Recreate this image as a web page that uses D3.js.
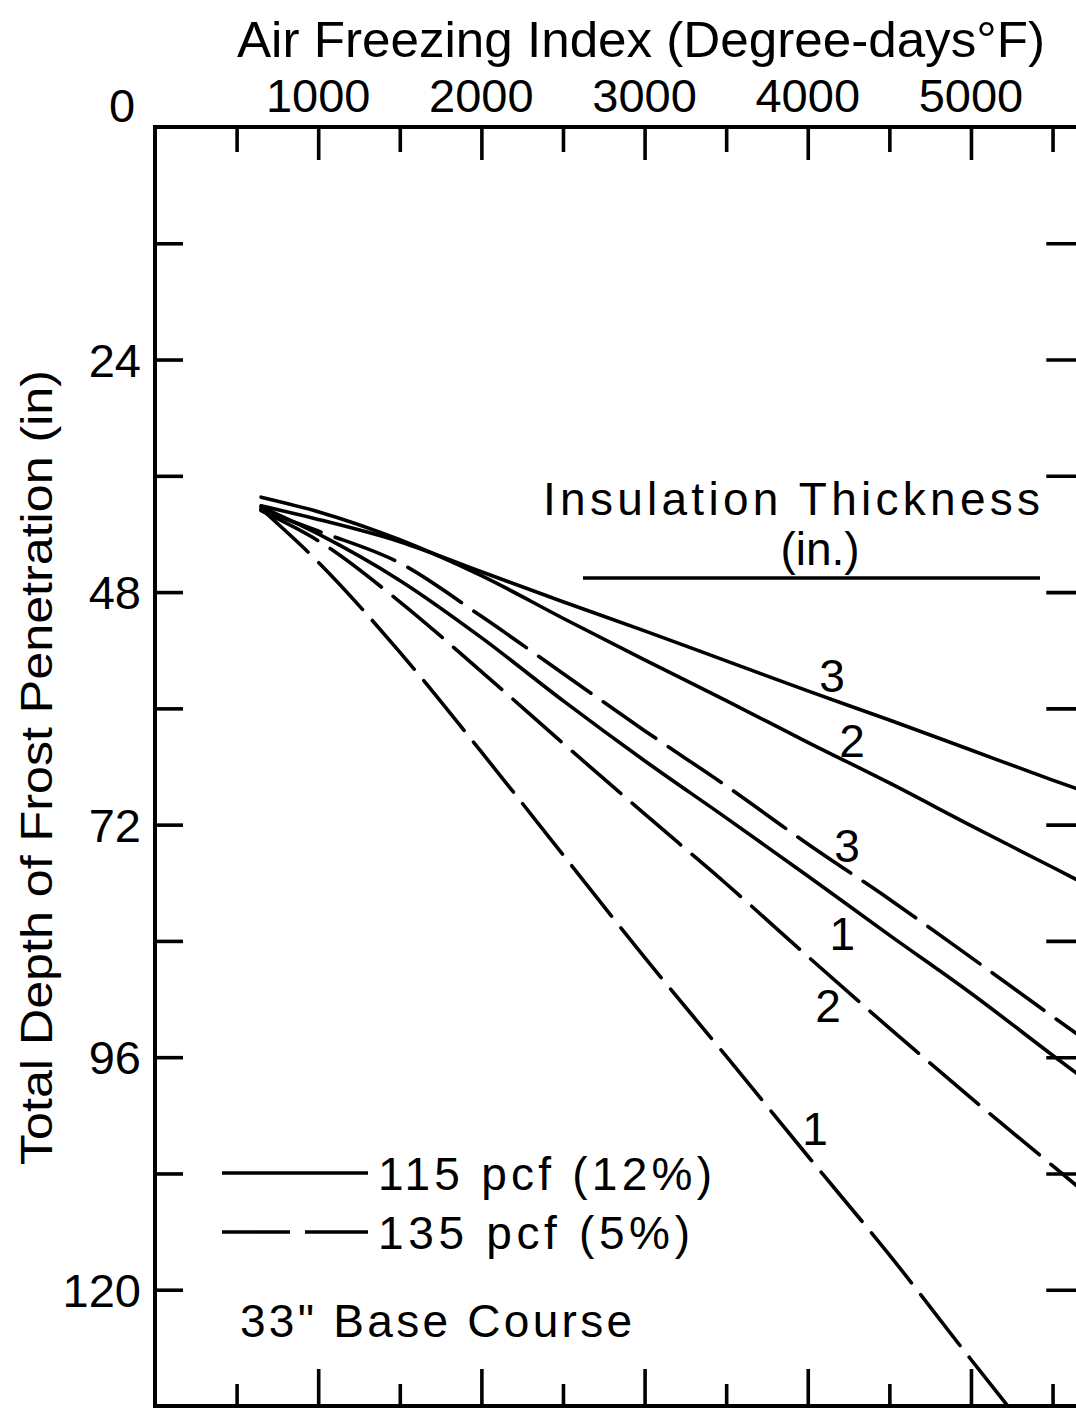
<!DOCTYPE html>
<html>
<head>
<meta charset="utf-8">
<script src="https://cdn.jsdelivr.net/npm/d3@7"></script>
<style>
  html, body { margin: 0; padding: 0; background: #fff; }
  svg { display: block; }
  text { font-family: "Liberation Sans", Arial, sans-serif; fill: #000; }
</style>
</head>
<body>
<svg id="chart" width="1076" height="1408"></svg>
<script>
// Air freezing index (degree-days °F) at which each curve is sampled
const freezingIndex = [650, 1000, 1500, 2000, 2500, 3000, 3500, 4000, 4500, 5000, 5500, 5650];

// Total depth of frost penetration (in) — 115 pcf base (12% moisture)
const solid115_3in = [39.1, 40.5, 42.8, 45.9, 49.0, 52.0, 55.1, 58.2, 61.2, 64.3, 67.4, 68.3];
const solid115_2in = [38.2, 39.7, 42.6, 46.3, 50.7, 55.0, 59.2, 63.5, 67.7, 72.1, 76.4, 77.7];
const solid115_1in = [39.2, 42.0, 46.8, 52.7, 59.2, 65.4, 71.3, 77.3, 83.4, 89.4, 95.8, 97.7];

// Total depth of frost penetration (in) — 135 pcf base (5% moisture)
const dashed135_3in = [39.5, 41.7, 45.0, 50.5, 56.4, 62.3, 68.0, 74.0, 79.7, 85.7, 91.8, 93.6];
const dashed135_2in = [39.6, 42.7, 49.0, 56.2, 63.6, 70.9, 78.1, 85.6, 93.0, 100.2, 107.2, 109.3];
const dashed135_1in = [39.4, 44.9, 54.2, 64.5, 75.1, 85.7, 95.9, 106.2, 116.4, 127.2, 137.7, 140.7];

// Axis ticks and labels
const xMinorTicks = [500, 1500, 2500, 3500, 4500, 5500];
const xMajorTicks = [1000, 2000, 3000, 4000, 5000];
const xTickLabels = ["1000", "2000", "3000", "4000", "5000"];
const yTicks = [12, 24, 36, 48, 60, 72, 84, 96, 108, 120];
const yTickLabels = [24, 48, 72, 96, 120];

// Insulation thickness labels placed along the curves (index, depth)
const curveLabels = [
  { text: "3", f: 4149, d: 58.3 },
  { text: "2", f: 4272, d: 65.0 },
  { text: "3", f: 4241, d: 75.9 },
  { text: "1", f: 4211, d: 84.9 },
  { text: "2", f: 4125, d: 92.4 },
  { text: "1", f: 4045, d: 105.1 }
];

const series = [
  { values: solid115_3in, dashed: false },
  { values: solid115_2in, dashed: false },
  { values: solid115_1in, dashed: false },
  { values: dashed135_3in, dashed: true },
  { values: dashed135_2in, dashed: true },
  { values: dashed135_1in, dashed: true }
];

const svg = d3.select("#chart");
const x = d3.scaleLinear().domain([0, 5670]).range([155, 1080.3]);
const y = d3.scaleLinear().domain([0, 132]).range([127, 1406]);
const [x0, x1] = x.range();
const [y0, y1] = y.range();
const DASH = "64,15";
const SW = 3.6;

// clip region for the curves
svg.append("defs").append("clipPath").attr("id", "plot-clip")
  .append("rect").attr("x", x0).attr("y", y0).attr("width", x1 - x0).attr("height", y1 - y0);

// tick marks on all four sides, pointing inward
function tickAxis(axis, transform) {
  const g = svg.append("g").attr("transform", transform).call(axis);
  g.select(".domain").remove();
  g.selectAll("text").remove();
  g.selectAll("line").attr("stroke", "#000").attr("stroke-width", SW);
}
tickAxis(d3.axisTop(x).tickValues(xMinorTicks).tickSize(-25), `translate(0,${y0})`);
tickAxis(d3.axisTop(x).tickValues(xMajorTicks).tickSize(-33), `translate(0,${y0})`);
tickAxis(d3.axisBottom(x).tickValues(xMinorTicks).tickSize(-22), `translate(0,${y1})`);
tickAxis(d3.axisBottom(x).tickValues(xMajorTicks).tickSize(-37), `translate(0,${y1})`);
tickAxis(d3.axisLeft(y).tickValues(yTicks).tickSize(-28), `translate(${x0},0)`);
tickAxis(d3.axisRight(y).tickValues(yTicks).tickSize(-34), `translate(${x1},0)`);

// frame
svg.append("rect")
  .attr("x", x0).attr("y", y0).attr("width", x1 - x0).attr("height", y1 - y0)
  .attr("fill", "none").attr("stroke", "#000").attr("stroke-width", 4);

// tick labels
svg.append("g").selectAll("text").data(xMajorTicks).join("text")
  .attr("x", d => x(d)).attr("y", 112)
  .attr("text-anchor", "middle").attr("font-size", 47)
  .text((d, i) => xTickLabels[i]);

svg.append("text").attr("x", x(0) - 33).attr("y", y(0) - 5)
  .attr("text-anchor", "middle").attr("font-size", 47).text("0");

svg.append("g").selectAll("text").data(yTickLabels).join("text")
  .attr("x", x0 - 14).attr("y", d => y(d) + 17)
  .attr("text-anchor", "end").attr("font-size", 47)
  .text(d => d);

// axis titles
svg.append("text").attr("x", 237).attr("y", 57)
  .attr("font-size", 50).attr("textLength", 808).attr("lengthAdjust", "spacingAndGlyphs")
  .text("Air Freezing Index (Degree-days°F)");

svg.append("text").attr("transform", "translate(52,1165) rotate(-90)")
  .attr("font-size", 44).attr("textLength", 795).attr("lengthAdjust", "spacingAndGlyphs")
  .text("Total Depth of Frost Penetration (in)");

// curves
const line = d3.line()
  .x((d, i) => x(freezingIndex[i]))
  .y(d => y(d))
  .curve(d3.curveMonotoneX);

svg.append("g").attr("clip-path", "url(#plot-clip)")
  .selectAll("path").data(series).join("path")
  .attr("d", s => line(s.values))
  .attr("fill", "none").attr("stroke", "#000").attr("stroke-width", SW)
  .attr("stroke-linecap", "round")
  .attr("stroke-dasharray", s => s.dashed ? DASH : null);

// curve labels
svg.append("g").selectAll("text").data(curveLabels).join("text")
  .attr("x", d => x(d.f)).attr("y", d => y(d.d))
  .attr("text-anchor", "middle").attr("font-size", 46)
  .text(d => d.text);

// insulation thickness heading
svg.append("text").attr("x", 543).attr("y", 515)
  .attr("font-size", 46).attr("textLength", 497).attr("lengthAdjust", "spacing")
  .text("Insulation Thickness");
svg.append("text").attr("x", 820).attr("y", 565)
  .attr("text-anchor", "middle").attr("font-size", 46)
  .text("(in.)");
svg.append("line").attr("x1", 583).attr("x2", 1040).attr("y1", 578).attr("y2", 578)
  .attr("stroke", "#000").attr("stroke-width", SW);

// legend
svg.append("line").attr("x1", 222).attr("x2", 368).attr("y1", 1173).attr("y2", 1173)
  .attr("stroke", "#000").attr("stroke-width", SW);
svg.append("line").attr("x1", 222).attr("x2", 368).attr("y1", 1232).attr("y2", 1232)
  .attr("stroke", "#000").attr("stroke-width", SW).attr("stroke-dasharray", "68,15");
svg.append("text").attr("x", 378).attr("y", 1190)
  .attr("font-size", 46).attr("textLength", 334).attr("lengthAdjust", "spacing")
  .text("115 pcf (12%)");
svg.append("text").attr("x", 378).attr("y", 1249)
  .attr("font-size", 46).attr("textLength", 312).attr("lengthAdjust", "spacing")
  .text("135 pcf (5%)");

svg.append("text").attr("x", 240).attr("y", 1337)
  .attr("font-size", 46).attr("textLength", 392).attr("lengthAdjust", "spacing")
  .text("33\" Base Course");
</script>
</body>
</html>
